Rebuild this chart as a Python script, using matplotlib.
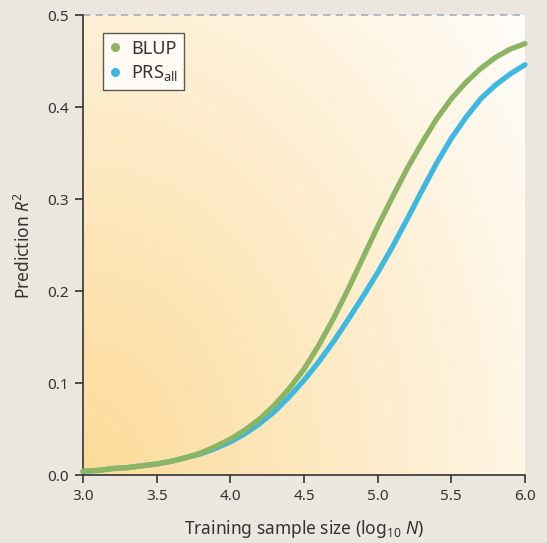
import numpy as np
import matplotlib
matplotlib.use("Agg")
import matplotlib.pyplot as plt

# -----------------------------
# Datos (log10 N vs R^2)
log_n = [3.0, 3.1, 3.2, 3.3, 3.4, 3.5, 3.6, 3.7, 3.8, 3.9,
         4.0, 4.1, 4.2, 4.3, 4.4, 4.5, 4.6, 4.7, 4.8, 4.9,
         5.0, 5.1, 5.2, 5.3, 5.4, 5.5, 5.6, 5.7, 5.8, 5.9, 6.0]
r2_blup = [0.004, 0.005, 0.007, 0.008, 0.010, 0.012, 0.015, 0.019, 0.024, 0.031,
           0.039, 0.049, 0.061, 0.076, 0.094, 0.115, 0.141, 0.170, 0.202, 0.236,
           0.270, 0.302, 0.333, 0.361, 0.387, 0.409, 0.427, 0.442, 0.454, 0.463, 0.469]
r2_prs = [0.004, 0.005, 0.007, 0.008, 0.010, 0.012, 0.015, 0.019, 0.023, 0.029,
          0.036, 0.045, 0.056, 0.069, 0.085, 0.103, 0.123, 0.145, 0.169, 0.194,
          0.220, 0.248, 0.278, 0.309, 0.339, 0.366, 0.389, 0.409, 0.424, 0.436, 0.446]
x_ticks = [3.0, 3.5, 4.0, 4.5, 5.0, 5.5, 6.0]
y_ticks = [0.0, 0.1, 0.2, 0.3, 0.4, 0.5]
r2_max = 0.5

plt.rcParams['font.family'] = ['Noto Sans', 'DejaVu Sans']
plt.rcParams['mathtext.fontset'] = 'custom'
plt.rcParams['mathtext.rm'] = 'Noto Sans'
plt.rcParams['mathtext.it'] = 'Noto Sans:italic'

fondo = '#ece7de'
texto = '#333333'
verde = '#8bb563'
azul = '#3db8e0'

fig = plt.figure(figsize=(5.47, 5.43), dpi=100, facecolor=fondo)
ax = fig.add_axes([0.1517, 0.1252, 0.808, 0.847])
ax.set_facecolor('white')

# -----------------------------
# Degradado naranja (abajo-izquierda) a blanco (arriba-derecha)
gx, gy = np.meshgrid(np.linspace(0, 1, 300), np.linspace(0, 1, 300))
t = np.clip(np.sqrt((gx / 1.33) ** 2 + (gy / 1.67) ** 2), 0, 1)
naranja = np.array([253, 218, 152]) / 255.0
blanco = np.array([255, 255, 255]) / 255.0
img = naranja[None, None, :] + (blanco - naranja)[None, None, :] * t[:, :, None]
ax.imshow(img, extent=[3.0, 6.0, 0.0, r2_max], origin='lower', aspect='auto', zorder=0)

# -----------------------------
# Curvas
ax.plot(log_n, r2_prs, color=azul, linewidth=3.8, solid_capstyle='round',
        solid_joinstyle='round', clip_on=False, zorder=3)
ax.plot(log_n, r2_blup, color=verde, linewidth=3.8, solid_capstyle='round',
        solid_joinstyle='round', clip_on=False, zorder=4)

ax.axhline(r2_max, color='#a8b4be', linewidth=1.3, linestyle=(0, (4, 3)), zorder=2, clip_on=False)

# leyenda con puntos
ax.plot([], [], 'o', color=verde, markersize=5.5, label='BLUP')
ax.plot([], [], 'o', color=azul, markersize=5.5, label=r'PRS$_{\mathrm{all}}$')
leg = ax.legend(loc='upper left', bbox_to_anchor=(0.045, 0.96), fontsize=13,
                frameon=True, fancybox=False, handlelength=0.6, handletextpad=0.6,
                borderpad=0.35, labelspacing=0.3, borderaxespad=0)
leg.get_frame().set_edgecolor(texto)
leg.get_frame().set_linewidth(1.0)
leg.get_frame().set_facecolor('white')
for txt in leg.get_texts():
    txt.set_color(texto)

ax.set_xlim(3.0, 6.0)
ax.set_ylim(0.0, r2_max)
ax.set_xticks(x_ticks)
ax.set_yticks(y_ticks)
ax.set_xticklabels(['%.1f' % v for v in x_ticks])
ax.set_yticklabels(['%.1f' % v for v in y_ticks])

for lado in ['top', 'right']:
    ax.spines[lado].set_visible(False)
for lado in ['left', 'bottom']:
    ax.spines[lado].set_color(texto)
    ax.spines[lado].set_linewidth(1.2)
ax.tick_params(direction='out', length=6, width=1.2, color=texto, labelcolor=texto,
               labelsize=11, pad=4)

ax.set_xlabel(r'Training sample size (log$_{10}$ $N$)', fontsize=12.5, color=texto, labelpad=10)
ax.set_ylabel(r'Prediction $R^{2}$', fontsize=12.5, color=texto, labelpad=10)

fig.savefig('out.png', dpi=100, facecolor=fondo)
